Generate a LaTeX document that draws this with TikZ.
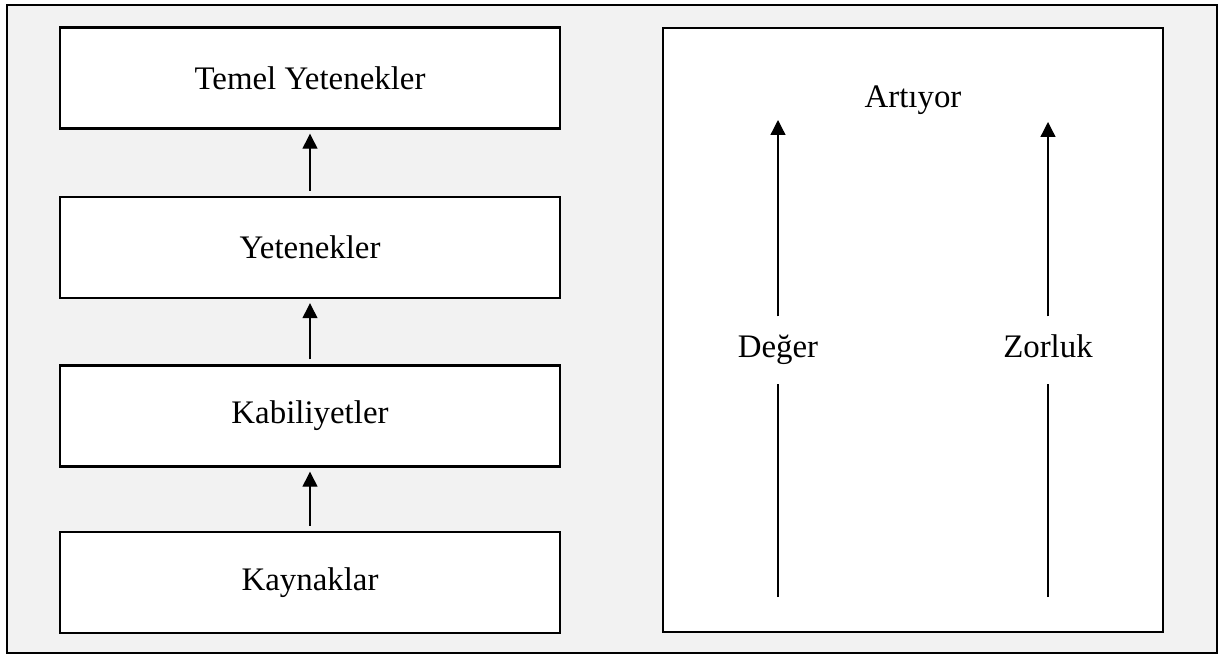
\documentclass[tikz,border=0pt]{standalone}
\usepackage{fontspec}
\setmainfont{Liberation Serif}
\usetikzlibrary{arrows.meta}
\begin{document}
\begin{tikzpicture}[x=1bp, y=-1bp,
    every node/.style={font=\fontsize{33}{39}\selectfont},
    blok/.style={draw, line width=2.4bp, fill=white, minimum width=500bp, minimum height=101bp, inner sep=0pt},
    etiket/.style={inner sep=0pt, text height=23bp, text depth=8bp, minimum height=67bp},
    cizgi/.style={line width=1.3bp},
    ok/.style={line width=1.3bp, -{Triangle[width=15bp,length=15bp]}}]
  \useasboundingbox (0,0) rectangle (1227,655);
  \draw[line width=1.8bp, fill=black!5] (7,5) rectangle (1217,653);

  % left column
  \node[blok] (B1) at (310,78) {Temel Yetenekler};
  \node[blok] (B2) at (310,247.5) {Yetenekler};
  \node[blok] (B3) at (310,416) {Kabiliyetler};
  \node[blok] (B4) at (310,582.5) {Kaynaklar};
  \foreach \a/\b in {B4/B3, B3/B2, B2/B1}{%
    \draw[ok, shorten <=5bp, shorten >=4bp] (\a) -- (\b);
  }

  % right panel
  \node[blok, minimum height=604bp] (P) at (913,330) {};
  \node[etiket] (artiyor) at (913,100) {Artıyor};
  \node[etiket] (deger) at (778,350) {Değer};
  \node[etiket] (zorluk) at (1048,350) {Zorluk};
  \coordinate (degerA) at (778,597);
  \coordinate (degerU) at (778,120);
  \coordinate (zorlukA) at (1048,597);
  \coordinate (zorlukU) at (1048,122);
  \draw[cizgi] (degerA) -- (deger);
  \draw[ok] (deger) -- (degerU);
  \draw[cizgi] (zorlukA) -- (zorluk);
  \draw[ok] (zorluk) -- (zorlukU);
\end{tikzpicture}
\end{document}
